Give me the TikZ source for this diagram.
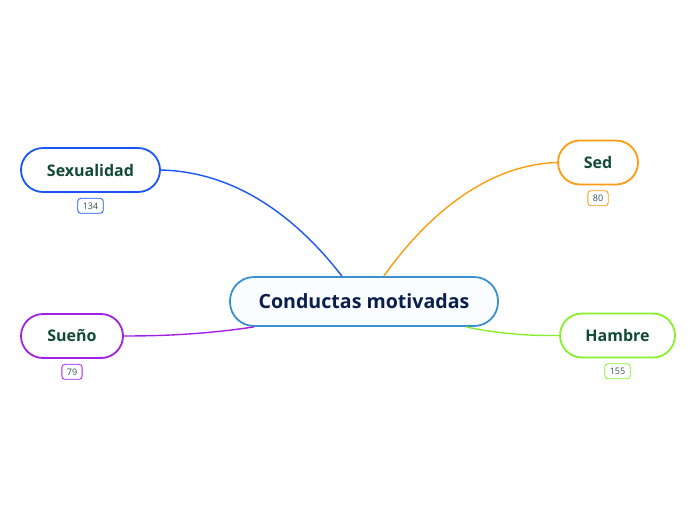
\documentclass[tikz,border=0pt]{standalone}
\usepackage{fontspec}
\setmainfont{Open Sans}
\usetikzlibrary{positioning}
\definecolor{cenline}{HTML}{3A8FCF}
\definecolor{cenfill}{HTML}{FAFDFF}
\definecolor{centext}{HTML}{0B1F4B}
\definecolor{subtext}{HTML}{114B36}
\definecolor{badgetext}{HTML}{2F4F4F}
\definecolor{sexcol}{HTML}{1A55F5}
\definecolor{sedcol}{HTML}{FF9B0F}
\definecolor{suecol}{HTML}{A21FE8}
\definecolor{hamcol}{HTML}{86F02A}

\begin{document}
\begin{tikzpicture}[
    x=1pt, y=-1pt,
    node distance=5pt,
    central/.style={draw=cenline, fill=cenfill, line width=1.8pt, rounded corners=24pt,
                    minimum width=268pt, minimum height=49pt, text=centext,
                    font=\bfseries\fontsize{19.6}{24}\selectfont},
    topic/.style={draw, fill=white, line width=1.8pt, rounded corners=22pt,
                  minimum height=44pt, text=subtext,
                  font=\bfseries\fontsize{16}{19}\selectfont},
    badge/.style={draw, line width=0.8pt, rounded corners=3pt, minimum height=15pt,
                  inner xsep=5pt, inner ysep=2pt, text=badgetext,
                  font=\fontsize{9}{11}\selectfont},
    branch/.style={line width=1.4pt},
  ]
    \useasboundingbox (0,0) rectangle (696,520);
    \node[central] (cen) at (364,301.5) {Conductas motivadas};
    \node[topic, draw=sexcol, minimum width=139pt] (sex) at (90.5,170) {Sexualidad};
    \node[topic, draw=sedcol, minimum width=80pt]  (sed) at (598,162.5) {Sed};
    \node[topic, draw=suecol, minimum width=102pt] (sue) at (72,336) {Sueño};
    \node[topic, draw=hamcol, minimum width=115pt] (ham) at (617.5,335.5) {Hambre};
    \node[badge, draw=sexcol, below=of sex] (sexnum) {134};
    \node[badge, draw=sedcol, below=of sed] (sednum) {80};
    \node[badge, draw=suecol, below=of sue] (suenum) {79};
    \node[badge, draw=hamcol, below=of ham] (hamnum) {155};
    % branches
    \draw[branch, sexcol] (sex.east) .. controls (240,172) and (300,222) .. (cen.131);
    \draw[branch, sedcol] (sed.west) .. controls (480,165) and (420,225) .. (cen.52);
    \draw[branch, suecol] (sue.east) .. controls (180,336) and (220,332) .. (cen.193);
    \draw[branch, hamcol] (ham.west) .. controls (520,336) and (490,332) .. (cen.346);
\end{tikzpicture}
\end{document}
